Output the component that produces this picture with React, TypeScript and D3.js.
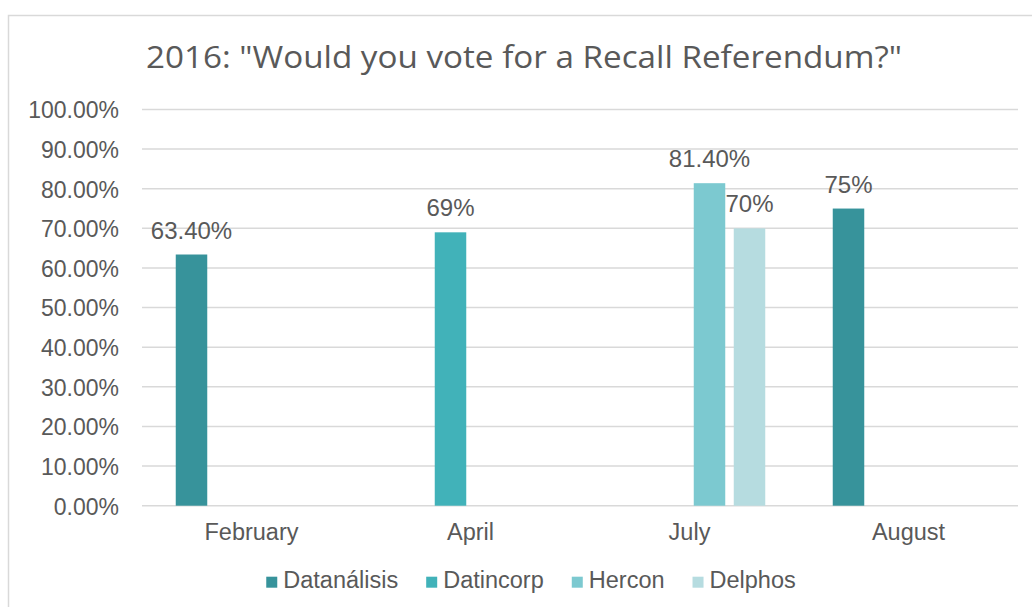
import React from 'react';
import * as d3 from 'd3';

const categories = ['February', 'April', 'July', 'August'];
const seriesNames = ['Datanálisis', 'Datincorp', 'Hercon', 'Delphos'];
const seriesColors = ['#37939b', '#41b2b9', '#7cc9d0', '#b6dce0'];

const datanalisisValues = [0.634, null, null, 0.75];
const datincorpValues = [null, 0.69, null, null];
const herconValues = [null, null, 0.814, null];
const delphosValues = [null, null, 0.7, null];

const datanalisisLabels = ['63.40%', null, null, '75%'];
const datincorpLabels = [null, '69%', null, null];
const herconLabels = [null, null, '81.40%', null];
const delphosLabels = [null, null, '70%', null];

const yTicks = [0, 0.1, 0.2, 0.3, 0.4, 0.5, 0.6, 0.7, 0.8, 0.9, 1.0];
const title = '2016: "Would you vote for a Recall Referendum?"';

const seriesValues = [datanalisisValues, datincorpValues, herconValues, delphosValues];
const seriesLabels = [datanalisisLabels, datincorpLabels, herconLabels, delphosLabels];

const W = 1032;
const H = 607;
const plotLeft = 142;
const plotRight = 1018;
const plotTop = 109.5;
const plotBottom = 505.7;
const textColor = '#595959';
const gridColor = '#d9d9d9';
const font = "'Liberation Sans', Arial, sans-serif";

function measure(text: string, size: number): number {
  const c = document.createElement('canvas');
  const ctx = c.getContext('2d');
  if (!ctx) return text.length * size * 0.5;
  ctx.font = `${size}px 'Liberation Sans', Arial, sans-serif`;
  return ctx.measureText(text).width;
}

export default function App() {
  const x0 = d3.scaleBand<string>().domain(categories).range([plotLeft, plotRight]).paddingInner(0).paddingOuter(0);
  const groupOff = (x0.bandwidth() - 151.5) / 2;
  const x1 = d3
    .scaleBand<string>()
    .domain(seriesNames)
    .range([groupOff, x0.bandwidth() - groupOff])
    .paddingInner(0.2125)
    .paddingOuter(0);
  const y = d3.scaleLinear().domain([0, 1]).range([plotBottom, plotTop]);
  const fmt = d3.format('.2%');

  // legend layout
  const legendSize = 23.5;
  const markerSize = 11;
  const markerGap = 6;
  const itemGap = 28;
  const widths = seriesNames.map((s) => measure(s, legendSize));
  const total = widths.reduce((a, w) => a + w + markerSize + markerGap, 0) + itemGap * (seriesNames.length - 1);
  const legendCenter = 531;
  let lx = legendCenter - total / 2;
  const legendItems = seriesNames.map((s, i) => {
    const item = { name: s, color: seriesColors[i], x: lx };
    lx += markerSize + markerGap + widths[i] + itemGap;
    return item;
  });

  const bars: { key: string; x: number; y: number; w: number; h: number; color: string; label: string | null }[] = [];
  seriesValues.forEach((vals, si) => {
    vals.forEach((v, ci) => {
      if (v == null) return;
      const bx = (x0(categories[ci]) ?? 0) + (x1(seriesNames[si]) ?? 0);
      bars.push({
        key: `${si}-${ci}`,
        x: bx,
        y: y(v),
        w: x1.bandwidth(),
        h: y(0) - y(v),
        color: seriesColors[si],
        label: seriesLabels[si][ci],
      });
    });
  });

  return (
    <svg
      width={W}
      height={H}
      style={{ position: 'absolute', left: 0, top: 0, background: '#ffffff' }}
    >
      <rect x={0} y={0} width={W} height={H} fill="#ffffff" />
      <rect x={8.5} y={15.5} width={1100} height={700} fill="#ffffff" stroke={gridColor} strokeWidth={1.5} />
      <text
        x={524}
        y={68}
        textAnchor="middle"
        fontFamily="'Open Sans', sans-serif"
        fontSize={31}
        fill={textColor}
        textLength={756}
        lengthAdjust="spacingAndGlyphs"
      >
        {title}
      </text>
      {yTicks.map((t) => (
        <g key={t}>
          <line x1={plotLeft} x2={plotRight} y1={y(t)} y2={y(t)} stroke={gridColor} strokeWidth={1.5} />
          <text x={119} y={y(t) + 8.8} textAnchor="end" fontFamily={font} fontSize={23} fill={textColor}>
            {fmt(t)}
          </text>
        </g>
      ))}
      {bars.map((b) => (
        <rect key={b.key} x={b.x} y={b.y} width={b.w} height={b.h} fill={b.color} />
      ))}
      {bars.map((b) =>
        b.label ? (
          <text
            key={'l' + b.key}
            x={b.x + b.w / 2}
            y={b.y - 16}
            textAnchor="middle"
            fontFamily={font}
            fontSize={24}
            fill={textColor}
          >
            {b.label}
          </text>
        ) : null
      )}
      {categories.map((c) => (
        <text
          key={c}
          x={(x0(c) ?? 0) + x0.bandwidth() / 2}
          y={540}
          textAnchor="middle"
          fontFamily={font}
          fontSize={23.5}
          fill={textColor}
        >
          {c}
        </text>
      ))}
      {legendItems.map((it) => (
        <g key={it.name}>
          <rect x={it.x} y={576.7} width={markerSize} height={markerSize} fill={it.color} />
          <text x={it.x + markerSize + markerGap} y={588.3} fontFamily={font} fontSize={legendSize} fill={textColor}>
            {it.name}
          </text>
        </g>
      ))}
    </svg>
  );
}
